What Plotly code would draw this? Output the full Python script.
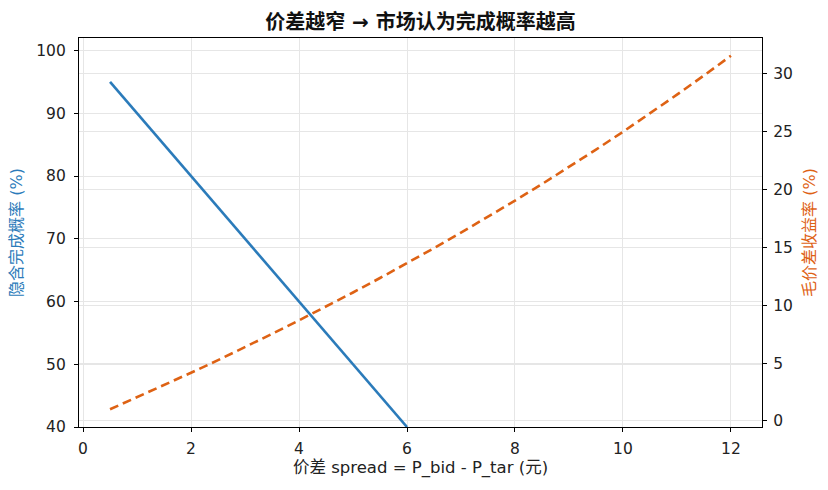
import plotly.graph_objects as go

# Data
spread_prob = [0.5, 1.0, 2.0, 3.0, 4.0, 5.0, 6.0]
implied_prob = [95, 90, 80, 70, 60, 50, 40]

spread_yield = [0.5, 1.0, 1.5, 2.0, 2.5, 3.0, 3.5, 4.0, 4.5, 5.0, 5.5, 6.0,
                6.5, 7.0, 7.5, 8.0, 8.5, 9.0, 9.5, 10.0, 10.5, 11.0, 11.5, 12.0]
gross_yield = [1.01, 2.04, 3.09, 4.17, 5.26, 6.38, 7.53, 8.70, 9.89, 11.11, 12.36, 13.64,
               14.94, 16.28, 17.65, 19.05, 20.48, 21.95, 23.46, 25.00, 26.58, 28.21, 29.87, 31.58]

x_ticks = [0, 2, 4, 6, 8, 10, 12]
left_ticks = [40, 50, 60, 70, 80, 90, 100]
right_ticks = [0, 5, 10, 15, 20, 25, 30]

BLUE = "#2b7bba"
ORANGE = "#de6214"
FONT = "'DejaVu Sans', 'Noto Sans CJK SC', sans-serif"

fig = go.Figure()
fig.add_trace(go.Scatter(x=spread_prob, y=implied_prob, mode="lines",
                         line=dict(color=BLUE, width=2.6), yaxis="y", showlegend=False))
fig.add_trace(go.Scatter(x=spread_yield, y=gross_yield, mode="lines",
                         line=dict(color=ORANGE, width=2.6, dash="9px,5px"), yaxis="y2",
                         showlegend=False))

axis_common = dict(showline=True, linecolor="black", linewidth=1.2, ticks="outside",
                   ticklen=4, tickcolor="black", tickfont=dict(size=15.5, color="#222", family=FONT),
                   showgrid=True, gridcolor="#e6e6e6", gridwidth=1, zeroline=False)

fig.update_layout(
    width=828, height=490,
    margin=dict(l=79, r=66, t=38, b=63),
    paper_bgcolor="white", plot_bgcolor="white",
    font=dict(family=FONT, color="#222"),
    title=dict(text="<b>价差越窄 → 市场认为完成概率越高</b>", x=0.5, xanchor="center",
               xref="paper", y=1 - 22 / 490, yanchor="middle", font=dict(size=20, color="#111", family=FONT)),
    xaxis=dict(range=[-0.075, 12.575], tickvals=x_ticks, mirror=True, ticklabelstandoff=3,
               title=dict(text="价差 spread = P_bid - P_tar (元)", font=dict(size=16.5, family=FONT, color="#222"),
                          standoff=2),
               **axis_common),
    yaxis=dict(range=[40, 102], tickvals=left_ticks, ticklabelstandoff=5,
               title=dict(text="隐含完成概率 (%)", font=dict(size=16, color=BLUE, family=FONT), standoff=9),
               **axis_common),
    yaxis2=dict(range=[-0.52, 33.11], tickvals=right_ticks, overlaying="y", side="right",
                ticklabelstandoff=3,
                title=dict(text="毛价差收益率 (%)", font=dict(size=16, color=ORANGE, family=FONT), standoff=11),
                **axis_common),
)

fig.write_html("out.html")
